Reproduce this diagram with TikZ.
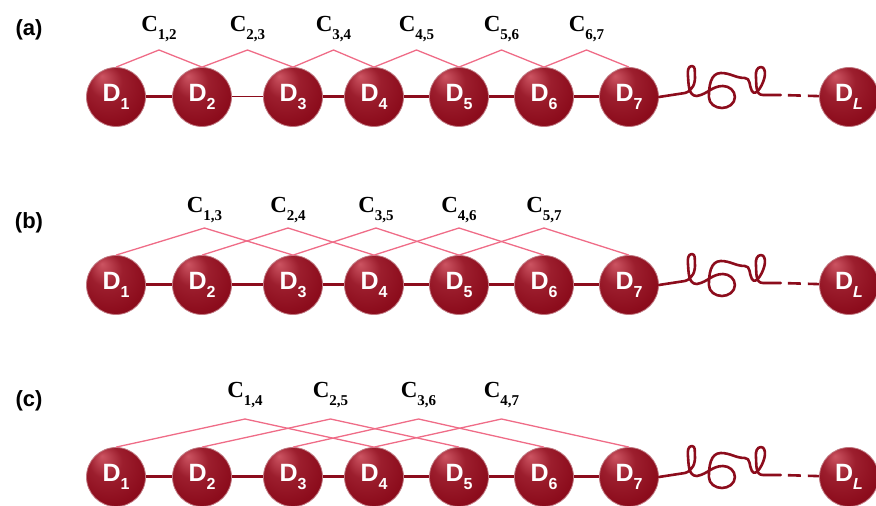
\documentclass[tikz,border=0pt]{standalone}
\usepackage{fontspec}
\setmainfont{Liberation Serif}
\setsansfont{Liberation Sans}
\usetikzlibrary{calc}
\definecolor{beadred}{HTML}{8C0C1C}
\definecolor{beadlight}{HTML}{CC5462}
\definecolor{contactpink}{HTML}{EF6C87}
\pgfdeclareradialshading{beadshade}{\pgfpoint{-12bp}{18bp}}{color(0bp)=(beadlight); color(14bp)=(beadred!75!beadlight); color(30bp)=(beadred); color(50bp)=(beadred!85!black)}
\newcommand{\dsub}[1]{\raisebox{-0.6ex}{\fontsize{16}{16}\selectfont #1}}
\newcommand{\csub}[1]{\raisebox{-0.7ex}{\fontsize{15}{15}\selectfont\bfseries #1}}
\tikzset{bead/.style = {shape=circle,draw=beadred!55!white,line width=0.8pt,minimum size=59pt,inner sep=0pt,shade,shading=beadshade,text=white,font=\sffamily\bfseries\fontsize{25}{25}\selectfont}}
\tikzset{bond/.style = {draw=beadred,line width=3pt}}
\tikzset{thinbond/.style = {draw=beadred,line width=1pt}}
\tikzset{coil/.style = {draw=beadred,line width=2.6pt,line cap=round,line join=round}}
\tikzset{contact/.style = {draw=contactpink,line width=1.3pt}}
\tikzset{clabel/.style = {anchor=base,font=\bfseries\fontsize{23}{23}\selectfont}}
\tikzset{panel/.style = {font=\sffamily\bfseries\fontsize{22}{22}\selectfont}}

\begin{document}
\begin{tikzpicture}[x=1pt,y=1pt]
		\useasboundingbox (0,0) rectangle (876,506);
		% panel labels
		\node[panel] (pa) at (29,476) {(a)};
		\node[panel] (pb) at (29,283) {(b)};
		\node[panel] (pc) at (29,105) {(c)};

		% beads
		\foreach \row/\y in {a/409,b/221,c/29} {
			\foreach \i/\x in {1/116,2/202,3/293,4/374,5/459,6/544,7/629}
				\node[bead] (\row\i) at (\x,\y) {D\dsub{\i}};
			\node[bead] (\row L) at (849,\y) {D\dsub{\itshape L}};
		}

		% bonds
		\draw[bond] (a1) -- (a2) (a3) -- (a4) -- (a5) -- (a6) -- (a7);
		\draw[thinbond] (a2) -- (a3);
		\draw[bond] (b1) -- (b2) -- (b3) -- (b4) -- (b5) -- (b6) -- (b7);
		\draw[bond] (c1) -- (c2) -- (c3) -- (c4) -- (c5) -- (c6) -- (c7);

		% contacts
		\foreach \i/\j in {1/2,2/3,3/4,4/5,5/6,6/7} {
			\coordinate (ap\i) at ($(a\i)!0.5!(a\j)+(0,47)$);
			\draw[contact] (a\i.north) -- (ap\i) -- (a\j.north);
			\node[clabel] (ac\i) at ($(a\i)!0.5!(a\j)+(0,65)$) {C\csub{\i,\j}};
		}
		\foreach \i/\j in {1/3,2/4,3/5,4/6,5/7} {
			\coordinate (bp\i) at ($(b\i)!0.5!(b\j)+(0,57)$);
			\draw[contact] (b\i.north) -- (bp\i) -- (b\j.north);
			\node[clabel] (bc\i) at ($(b\i)!0.5!(b\j)+(0,72)$) {C\csub{\i,\j}};
		}
		\foreach \i/\j in {1/4,2/5,3/6,4/7} {
			\coordinate (cp\i) at ($(c\i)!0.5!(c\j)+(0,58)$);
			\draw[contact] (c\i.north) -- (cp\i) -- (c\j.north);
			\node[clabel] (cc\i) at ($(c\i)!0.5!(c\j)+(0,79)$) {C\csub{\i,\j}};
		}

		% coil tails
		\foreach \row in {a,b,c} {
			\begin{scope}[shift={(\row 7.east)}]
				\draw[coil] (\row 7.east) -- (26,4)
					to[out=15,in=-85] (36,22) to[out=95,in=0] (33,31)
					to[out=180,in=95] (29,22) to[out=-85,in=180] (38,1)
					to[out=10,in=180] (64,11) to[out=0,in=90] (76,0)
					to[out=-90,in=0] (63,-11) to[out=180,in=-90] (50,0)
					to[out=90,in=180] (62,24) to[out=0,in=180] (86,19)
					to[out=0,in=120] (93,6) to[out=-60,in=-95] (106,22)
					to[out=85,in=0] (102,30) to[out=180,in=95] (97,21)
					to[out=-85,in=180] (104,2) -- (122,2) coordinate (\row e);
			\end{scope}
			\draw[coil,line cap=butt,dash pattern=on 13pt off 7pt,dash phase=13pt] (\row e) -- (\row L);
		}
	\end{tikzpicture}
\end{document}
